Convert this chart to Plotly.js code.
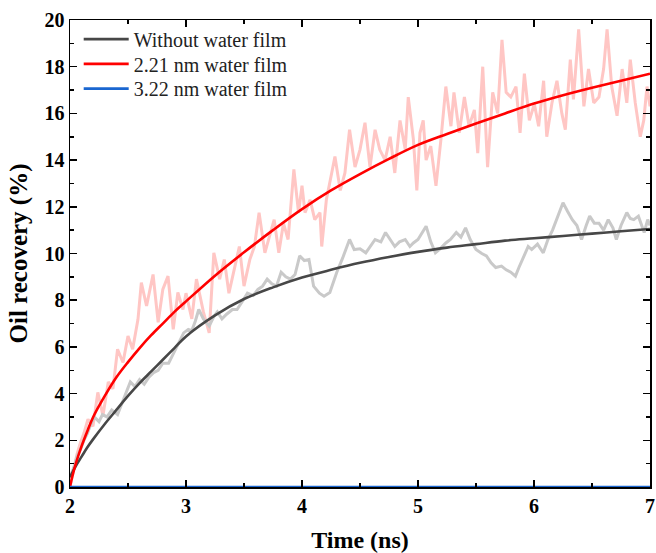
<!DOCTYPE html>
<html>
<head>
<meta charset="utf-8">
<script src="https://cdn.plot.ly/plotly-3.0.1.min.js"></script>
<style>html,body{margin:0;padding:0;background:#fff;}#chart{width:656px;height:553px;}</style>
</head>
<body>
<div id="chart"></div>
<script>
// Series names
var seriesNames = ["Without water film", "2.21 nm water film", "3.22 nm water film"];

// Fitted curves
var fitTime = [2.0, 2.02, 2.05, 2.1, 2.15, 2.2, 2.3, 2.4, 2.5, 2.6, 2.7, 2.8, 2.9, 3.0, 3.25, 3.5, 3.75, 4.0, 4.25, 4.5, 4.75, 5.0, 5.25, 5.5, 5.75, 6.0, 6.25, 6.5, 6.75, 7.0];
var fitWithout = [0.42, 0.62, 0.9, 1.3, 1.7, 2.05, 2.7, 3.3, 3.9, 4.45, 4.95, 5.45, 5.95, 6.45, 7.35, 8.05, 8.55, 8.97, 9.3, 9.6, 9.85, 10.07, 10.25, 10.4, 10.55, 10.65, 10.75, 10.85, 10.95, 11.05];
var fit221 = [0.0, 0.45, 1.0, 1.75, 2.4, 3.0, 3.9, 4.7, 5.35, 5.95, 6.5, 7.0, 7.5, 7.95, 9.05, 10.05, 11.0, 11.9, 12.7, 13.4, 14.05, 14.65, 15.12, 15.57, 16.0, 16.42, 16.78, 17.1, 17.4, 17.7];
var fit322Time = [2.0, 7.0];
var fit322 = [0.0, 0.0];

// Raw (noisy) data, without water film
var rawTimeWithout = [2.00,2.03,2.06,2.09,2.12,2.15,2.18,2.21,2.25,2.28,2.32,2.36,2.41,2.45,2.49,2.52,2.56,2.60,2.64,2.68,2.72,2.76,2.80,2.85,2.90,2.94,2.98,3.02,3.05,3.08,3.11,3.15,3.20,3.24,3.27,3.31,3.35,3.40,3.44,3.48,3.53,3.58,3.62,3.66,3.70,3.74,3.78,3.82,3.86,3.90,3.94,3.98,4.02,4.06,4.10,4.15,4.19,4.24,4.30,4.35,4.41,4.45,4.50,4.55,4.59,4.63,4.68,4.72,4.76,4.80,4.84,4.89,4.93,4.96,5.00,5.04,5.07,5.11,5.15,5.19,5.24,5.28,5.33,5.37,5.41,5.45,5.50,5.55,5.59,5.63,5.67,5.72,5.76,5.80,5.84,5.87,5.90,5.95,5.98,6.03,6.08,6.12,6.16,6.20,6.25,6.29,6.33,6.37,6.41,6.45,6.48,6.52,6.56,6.60,6.64,6.68,6.71,6.75,6.80,6.83,6.86,6.90,6.95,6.98,7.00];
var rawWithout = [0.4,0.8,1.3,1.6,2.0,2.3,2.7,3.0,2.8,3.1,3.0,3.3,3.1,3.6,4.1,4.5,4.3,4.6,4.4,4.7,4.9,5.0,5.3,5.3,5.8,6.2,6.6,6.75,6.7,7.1,7.6,7.2,6.9,7.3,7.5,7.2,7.4,7.6,7.6,7.9,8.3,8.2,8.46,8.6,8.9,8.7,8.6,9.2,9.0,8.9,9.1,9.9,9.7,9.74,8.6,8.3,8.17,8.33,9.2,9.8,10.6,10.17,10.2,10.03,10.3,10.6,10.5,10.9,10.6,10.3,10.5,10.6,10.3,10.45,10.6,10.9,11.17,10.5,10.03,10.2,10.45,10.6,10.9,10.7,11.1,10.6,10.17,10.0,9.9,9.6,9.4,9.46,9.3,9.2,9.03,9.4,9.74,10.3,10.17,10.4,10.03,10.6,11.0,11.5,12.17,11.8,11.45,11.2,10.6,11.2,11.6,11.3,11.3,11.0,11.45,11.1,10.6,11.2,11.75,11.5,11.45,11.6,10.9,11.45,11.2];

// Raw (noisy) data, 2.21 nm water film
var rawTime221 = [2.00,2.03,2.06,2.09,2.12,2.155,2.198,2.24,2.284,2.33,2.37,2.41,2.457,2.50,2.54,2.586,2.615,2.66,2.716,2.76,2.80,2.845,2.89,2.93,2.974,3.00,3.05,3.09,3.15,3.20,3.24,3.29,3.33,3.37,3.42,3.46,3.50,3.55,3.59,3.63,3.68,3.72,3.76,3.80,3.84,3.88,3.93,3.97,4.00,4.026,4.07,4.11,4.155,4.17,4.21,4.256,4.284,4.33,4.37,4.41,4.457,4.50,4.543,4.586,4.63,4.67,4.716,4.76,4.80,4.845,4.89,4.916,4.96,4.99,5.017,5.045,5.07,5.11,5.155,5.198,5.24,5.284,5.31,5.356,5.40,5.44,5.486,5.515,5.558,5.60,5.644,5.687,5.724,5.76,5.80,5.845,5.88,5.917,5.96,6.003,6.04,6.083,6.11,6.155,6.198,6.24,6.27,6.313,6.34,6.385,6.43,6.47,6.515,6.56,6.60,6.63,6.67,6.716,6.76,6.80,6.83,6.873,6.916,6.946,6.974,7.00];
var raw221 = [0.0,0.7,1.4,1.9,2.3,2.9,2.6,4.05,3.05,4.5,4.2,5.9,5.33,6.47,5.9,7.18,8.75,7.75,9.1,7.05,8.46,9.03,6.75,8.33,7.6,8.3,7.2,8.9,7.5,6.6,10.03,8.9,9.74,8.3,9.46,10.3,8.6,9.74,10.3,11.75,10.03,10.74,11.45,10.03,11.3,10.6,13.6,11.75,12.9,11.75,12.3,11.45,11.75,10.3,12.3,13.45,14.15,12.7,13.45,15.3,13.7,14.45,15.6,13.7,15.3,14.45,14.0,15.0,13.45,15.7,14.45,16.7,14.9,12.7,15.17,15.7,14.0,14.6,12.9,14.9,17.15,15.45,16.9,15.17,16.7,15.45,16.15,14.3,18.0,13.7,16.9,16.0,19.15,16.9,16.7,17.15,15.17,17.7,15.7,16.4,15.45,17.4,15.0,16.45,17.4,16.0,15.3,18.3,16.6,19.6,16.3,17.9,16.45,16.7,17.9,19.6,17.15,15.9,17.9,16.45,18.3,16.45,15.0,15.7,17.15,16.3];

var serif = "Liberation Serif";

var traces = [
  {x: rawTime221, y: raw221, mode: "lines", line: {color: "#ffc6c4", width: 3}, showlegend: false, hoverinfo: "skip"},
  {x: rawTimeWithout, y: rawWithout, mode: "lines", line: {color: "#c9c9c9", width: 3}, showlegend: false, hoverinfo: "skip"},
  {x: fitTime, y: fitWithout, name: seriesNames[0], legend: "legend", mode: "lines", line: {color: "#474747", width: 2.6, shape: "spline", smoothing: 1}},
  {x: fitTime, y: fit221, name: seriesNames[1], legend: "legend2", mode: "lines", line: {color: "#ff0000", width: 2.6, shape: "spline", smoothing: 1}},
  {x: fit322Time, y: fit322, name: seriesNames[2], legend: "legend3", mode: "lines", line: {color: "#1a66d0", width: 2.6}}
];

var axisCommon = {
  showline: true, linecolor: "#000", linewidth: 1.5, mirror: "ticks",
  ticks: "inside", ticklen: 7, tickwidth: 1.5, tickcolor: "#000",
  showgrid: false, zeroline: false,
  tickfont: {family: serif, size: 20, color: "#000", weight: "bold"}
};

function legendAt(yc) {
  return {x: 0.015, y: yc, xanchor: "left", yanchor: "middle", bgcolor: "rgba(0,0,0,0)",
          font: {family: serif, size: 20, color: "#222"}, itemwidth: 45};
}

var layout = {
  width: 656, height: 553,
  margin: {l: 70, r: 6, t: 20, b: 66},
  paper_bgcolor: "#fff", plot_bgcolor: "#fff",
  showlegend: true,
  legend: legendAt(0.959),
  legend2: legendAt(0.906),
  legend3: legendAt(0.853),
  xaxis: Object.assign({}, axisCommon, {
    range: [2, 7], dtick: 1, tick0: 2,
    minor: {dtick: 0.5, ticks: "inside", ticklen: 4, tickwidth: 1.5, tickcolor: "#000"},
    title: {text: "Time (ns)", font: {family: serif, size: 24, color: "#000", weight: "bold"}, standoff: 29}
  }),
  yaxis: Object.assign({}, axisCommon, {
    range: [0, 20], dtick: 2, tick0: 0,
    minor: {dtick: 1, ticks: "inside", ticklen: 4, tickwidth: 1.5, tickcolor: "#000"},
    title: {text: "Oil recovery (%)", font: {family: serif, size: 25, color: "#000", weight: "bold"}, standoff: 10}
  })
};

Plotly.newPlot("chart", traces, layout, {displayModeBar: false, staticPlot: true});
</script>
</body>
</html>
